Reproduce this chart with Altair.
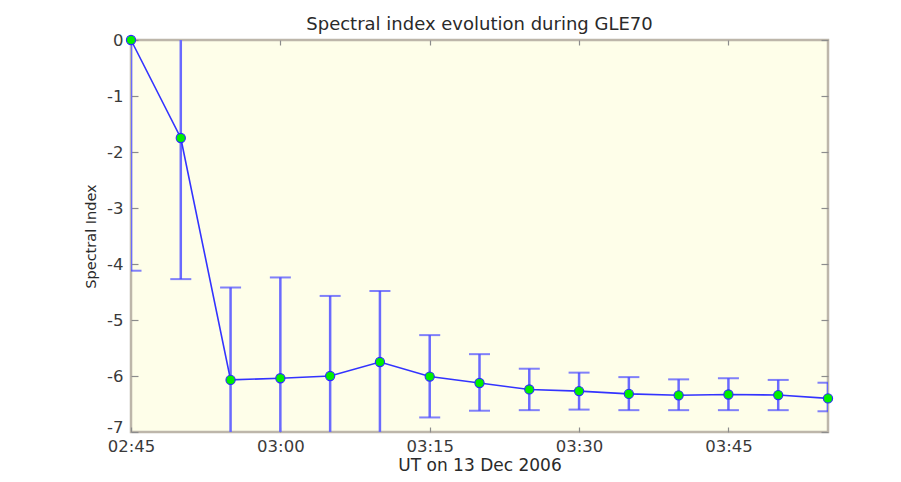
import altair as alt
import pandas as pd

# ---- data ----
date = "2006-12-13"
times = ["02:45", "02:50", "02:55", "03:00", "03:05", "03:10", "03:15", "03:20",
         "03:25", "03:30", "03:35", "03:40", "03:45", "03:50", "03:55"]
index_vals = [0.0, -1.75, -6.07, -6.04, -6.00, -5.75, -6.01, -6.125,
              -6.24, -6.27, -6.32, -6.345, -6.33, -6.34, -6.40]
err_high = [4.12, 0.77, -4.42, -4.24, -4.57, -4.48, -5.27, -5.61,
            -5.87, -5.94, -6.02, -6.06, -6.04, -6.07, -6.12]
err_low = [-4.12, -4.27, -7.72, -7.84, -7.43, -7.05, -6.74, -6.62,
           -6.61, -6.60, -6.61, -6.61, -6.61, -6.61, -6.63]
x_tick_labels = ["02:45", "03:00", "03:15", "03:30", "03:45"]
y_ticks = [0, -1, -2, -3, -4, -5, -6, -7]
y_min, y_max = -7, 0
title_text = "Spectral index evolution during GLE70"
x_title = "UT on 13 Dec 2006"
y_title = "Spectral Index"

df = pd.DataFrame({
    "t": [f"{date}T{t}:00Z" for t in times],
    "v": index_vals,
    "hi": err_high,
    "lo": err_low,
})


def dt(hm):
    h, m = hm.split(":")
    return alt.DateTime(year=2006, month=12, date=13, hours=int(h), minutes=int(m), utc=True)


FONT = "DejaVu Sans"
xscale = alt.Scale(type="utc", nice=False, domain=[dt(times[0]), dt(times[-1])])
yscale = alt.Scale(domain=[y_min, y_max], nice=False, zero=False)
xvals = [dt(s) for s in x_tick_labels]

main_x_axis = alt.Axis(orient="bottom", values=xvals, format="%H:%M", ticks=False, tickSize=0,
                       domain=False, grid=False, labelFont=FONT, labelFontSize=16.5,
                       labelColor="#3a3a3a", labelPadding=6, labelFlush=False, title=x_title,
                       titleFont=FONT, titleFontSize=17, titleFontWeight="normal",
                       titleColor="#2a2a2a", titlePadding=3)
main_y_axis = alt.Axis(orient="left", values=y_ticks, ticks=False, tickSize=0, domain=False,
                       grid=False, labelFont=FONT, labelFontSize=16.5, labelColor="#3a3a3a",
                       labelPadding=8, labelFlush=False,
                       labelExpr="toString(datum.value)",
                       labelBaseline={"condition": {"test": f"datum.value == {y_min}",
                                                    "value": "alphabetic"},
                                      "value": "middle"},
                       title=y_title, titleFont=FONT,
                       titleFontSize=14.5, titleFontWeight="normal", titleColor="#2a2a2a",
                       titlePadding=8)

base = alt.Chart(df).transform_calculate(
    hi_c=f"min(datum.hi, {y_max})",
    lo_c=f"max(datum.lo, {y_min})",
)

rules = base.mark_rule(clip=True, color="#6a6aff", strokeWidth=2.5).encode(
    x=alt.X("t:T", scale=xscale, axis=None),
    y=alt.Y("lo_c:Q", scale=yscale, axis=None),
    y2="hi_c:Q",
)
caps_lo = base.transform_filter(f"datum.lo >= {y_min}").mark_tick(
    clip=True, orient="horizontal", size=21, thickness=2, color="#4a4aff").encode(
    x=alt.X("t:T", scale=xscale, axis=None),
    y=alt.Y("lo:Q", scale=yscale, axis=None),
)
caps_hi = base.transform_filter(f"datum.hi <= {y_max}").mark_tick(
    clip=True, orient="horizontal", size=21, thickness=2, color="#4a4aff").encode(
    x=alt.X("t:T", scale=xscale, axis=None),
    y=alt.Y("hi:Q", scale=yscale, axis=None),
)
line = base.mark_line(color="#3333ff", strokeWidth=1.6).encode(
    x=alt.X("t:T", scale=xscale, axis=main_x_axis),
    y=alt.Y("v:Q", scale=yscale, axis=main_y_axis),
)
points = base.mark_point(filled=True, shape="circle", size=85, fill="#00f000",
                         stroke="#2a2aff", strokeWidth=1.1, opacity=1).encode(
    x=alt.X("t:T", scale=xscale, axis=None),
    y=alt.Y("v:Q", scale=yscale, axis=None),
)

tick_style = dict(labels=False, domain=False, grid=False, ticks=True, tickColor="#8c8c8c",
                  tickWidth=1.2, title=None)
ticks_tr = base.mark_point(opacity=0).encode(
    x=alt.X("t:T", scale=xscale,
            axis=alt.Axis(orient="top", values=xvals, offset=-5, tickSize=5, **tick_style)),
    y=alt.Y("v:Q", scale=yscale,
            axis=alt.Axis(orient="right", values=y_ticks, offset=-7, tickSize=7, **tick_style)),
)
ticks_bl = base.mark_point(opacity=0).encode(
    x=alt.X("t:T", scale=xscale,
            axis=alt.Axis(orient="bottom", values=xvals, offset=-5, tickSize=5, **tick_style)),
    y=alt.Y("v:Q", scale=yscale,
            axis=alt.Axis(orient="left", values=y_ticks, offset=-7, tickSize=7, **tick_style)),
)

chart = alt.layer(rules, caps_lo, caps_hi, line, points, ticks_tr, ticks_bl).resolve_axis(
    x="independent", y="independent"
).properties(
    width=697,
    height=392,
    padding={"left": 123, "top": 32, "right": 60, "bottom": 48},
    autosize=alt.AutoSizeParams(type="none"),
    background="white",
    title=alt.Title(title_text, font=FONT, fontSize=18, fontWeight="normal", color="#2a2a2a",
                    anchor="middle", baseline="alphabetic", offset=6, dy=22),
).configure_view(
    fill="#fefee9", stroke="#bdb6aa", strokeWidth=2.5
)

chart.save("out.html", embed_options={"renderer": "svg", "actions": False})
